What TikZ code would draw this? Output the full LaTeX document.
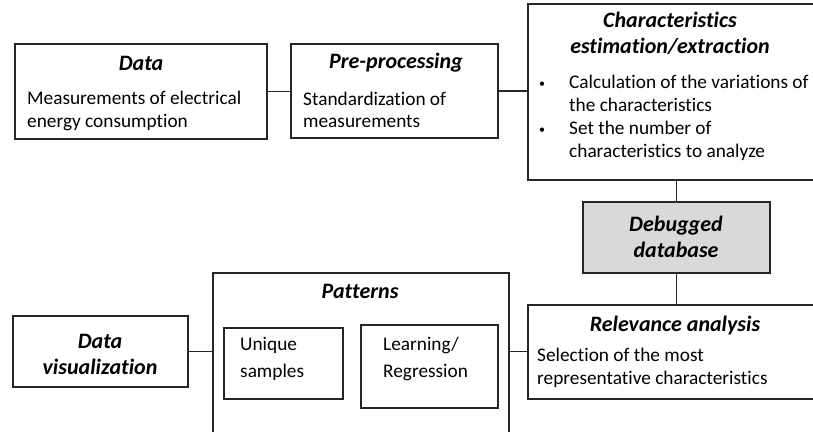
\documentclass[tikz,border=0pt]{standalone}
\usepackage{fontspec}
\setmainfont{Carlito}[Ligatures=NoCommon]
\usetikzlibrary{fit}
\definecolor{lgray}{HTML}{D9D9D9}
\definecolor{ink}{HTML}{262626}
\newcommand{\smallbul}{\makebox[31pt][l]{\hspace*{1pt}\raisebox{1pt}{\fontsize{12}{12}\selectfont\textbullet}}}
\begin{document}
\begin{tikzpicture}[x=1pt,y=-1pt,
  box/.style={draw=ink, line width=1.4pt, inner sep=0pt},
  ttl/.style={font=\fontsize{22}{26}\selectfont\bfseries\itshape, align=center, inner sep=0pt, text=black},
  txt/.style={font=\fontsize{19.3}{22.5}\selectfont, align=left, inner sep=0pt, anchor=west, text=black},
  wire/.style={draw=ink, line width=1.4pt}]
\useasboundingbox (0,0) rectangle (813,431);
\clip (0,0) rectangle (813,431);
% boxes
\node[box, fit={(15,44)(267,139)}] (data) {};
\node[box, fit={(291,44)(498,138)}] (pre) {};
\node[box, fit={(528,4)(830,180)}] (char) {};
\node[box, fill=lgray, fit={(583,202)(770,273)}] (dbg) {};
\node[box, fit={(528,305)(830,399)}] (rel) {};
\node[box, fit={(13,316)(188,387)}] (dv) {};
\node[box, fit={(213,273)(509,450)}] (pat) {};
\node[box, fit={(224,328)(343,399)}] (uni) {};
\node[box, fit={(361,325)(498,408)}] (lrn) {};
% texts
\node[ttl] (datat) at (141,63) {Data};
\node[txt] (datab) at (27,111) {Measurements of electrical\\energy consumption};
\node[ttl] (pret) at (396,63) {Pre-processing};
\node[txt] (preb) at (303,110) {Standardization of\\measurements};
\node[ttl] (chart) at (670,33) {Characteristics\\estimation/extraction};
\node[txt, font=\fontsize{19.3}{23.2}\selectfont] (charb) at (538,118) {\smallbul Calculation of the variations of\\\hspace*{31pt}the characteristics\\\smallbul Set the number of\\\hspace*{31pt}characteristics to analyze};
\node[ttl] (dbgt) at (676,237) {Debugged\\database};
\node[ttl] (relt) at (675,326) {Relevance analysis};
\node[txt] (relb) at (537,368) {Selection of the most\\representative characteristics};
\node[ttl] (dvt) at (100,354) {Data\\visualization};
\node[ttl] (patt) at (360,291) {Patterns};
\node[txt, font=\fontsize{19.3}{27}\selectfont] (unit) at (240,359) {Unique\\samples};
\node[txt, font=\fontsize{19.3}{27}\selectfont] (lrnt) at (383,359) {Learning/\\Regression};
% connectors
\draw[wire] (data.east) -- (data.east -| pre.west);
\draw[wire] (pre.east) -- (pre.east -| char.west);
\draw[wire] (dbg.north) -- (dbg.north |- char.south);
\draw[wire] (dbg.south) -- (dbg.south |- rel.north);
\draw[wire] (dv.east) -- (dv.east -| pat.west);
\draw[wire] (dv.east -| pat.east) -- (dv.east -| rel.west);
\end{tikzpicture}
\end{document}
